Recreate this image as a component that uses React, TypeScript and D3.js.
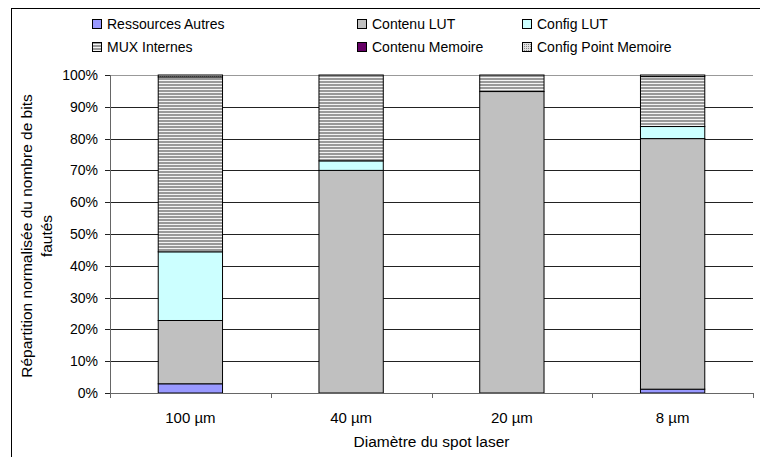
import React from "react";
import * as d3 from "d3";

const categories = ["100 µm", "40 µm", "20 µm", "8 µm"];
const seriesNames = ["Ressources Autres", "Contenu LUT", "Config LUT", "MUX Internes", "Contenu Memoire", "Config Point Memoire"];
const ressourcesAutres = [2.9, 0, 0, 1.2];
const contenuLUT = [19.9, 70, 94.8, 78.8];
const configLUT = [21.6, 3, 0, 3.8];
const muxInternes = [55, 27, 5.2, 15.7];
const contenuMemoire = [0, 0, 0, 0];
const configPointMemoire = [0.6, 0, 0, 0.5];
const yTicks = [0, 10, 20, 30, 40, 50, 60, 70, 80, 90, 100];

const fills = ["#9999FF", "#C0C0C0", "#CCFFFF", "url(#mux)", "#660066", "url(#cpm)"];

export default function App() {
  const W = 760, H = 457;
  const left = 110, right = 753, top = 75, bottom = 393;
  const x = d3.scaleBand<string>().domain(categories).range([left, right]).paddingInner(0.6).paddingOuter(0.3);
  const xb = d3.scaleBand<string>().domain(categories).range([left, right]);
  const y = d3.scaleLinear().domain([0, 100]).range([bottom, top]);
  const all = [ressourcesAutres, contenuLUT, configLUT, muxInternes, contenuMemoire, configPointMemoire];
  const rows = categories.map((c, i) => {
    const r: any = { cat: c };
    seriesNames.forEach((s, k) => (r[s] = all[k][i]));
    return r;
  });
  const stacked = d3.stack().keys(seriesNames)(rows);
  const font = "Liberation Sans, Arial, sans-serif";
  const legendCols = [97, 362, 527];
  const legendRows = [24, 47];
  return (
    <svg width={W} height={H} style={{ position: "absolute", left: 0, top: 0 }} fontFamily={font}>
      <defs>
        <pattern id="mux" width="4" height="3" patternUnits="userSpaceOnUse">
          <rect width="4" height="3" fill="#999999" />
          <rect y="2" width="4" height="1" fill="#f4f4f4" />
        </pattern>
        <pattern id="cpm" width="2" height="2" patternUnits="userSpaceOnUse">
          <rect width="2" height="2" fill="#e0e0e0" />
          <rect width="1" height="1" fill="#888" />
        </pattern>
      </defs>
      <rect width={W} height={H} fill="#fff" />
      <rect x={11.5} y={8.5} width={800} height={500} fill="none" stroke="#000" strokeWidth={1} />
      {/* legend */}
      {seriesNames.map((s, k) => {
        const cx = legendCols[k % 3];
        const cy = legendRows[Math.floor(k / 3)];
        return (
          <g key={s}>
            <rect x={cx - 4.5} y={cy - 4.5} width={9} height={9} fill={fills[k]} stroke="#000" strokeWidth={1} />
            <text x={cx + 10} y={cy + 5} fontSize={14}>{s}</text>
          </g>
        );
      })}
      {/* gridlines */}
      {yTicks.map((t) => (
        <g key={t}>
          <line x1={left} x2={right} y1={Math.round(y(t)) + 0.5} y2={Math.round(y(t)) + 0.5} stroke={t === 100 ? "#999" : "#222"} strokeWidth={1} />
          <line x1={left - 5} x2={left} y1={Math.round(y(t)) + 0.5} y2={Math.round(y(t)) + 0.5} stroke="#222" />
          <text x={left - 12} y={y(t) + 5} fontSize={14} textAnchor="end">{t}%</text>
        </g>
      ))}
      {/* bars */}
      {stacked.map((layer, k) => (
        <g key={k}>
          {layer.map((d, i) => {
            const h = y(d[0]) - y(d[1]);
            if (h <= 0) return null;
            return (
              <rect key={i} x={x(categories[i])!} y={y(d[1])} width={x.bandwidth()} height={h}
                fill={fills[k]} stroke="#000" strokeWidth={1} />
            );
          })}
        </g>
      ))}
      {/* axes */}
      <line x1={left + 0.5} x2={left + 0.5} y1={top} y2={bottom} stroke="#666" />
      <line x1={left} x2={right} y1={bottom + 0.5} y2={bottom + 0.5} stroke="#666" />
      {categories.map((c, i) => (
        <g key={c}>
          <line x1={Math.round(xb(c)!) + 0.5} x2={Math.round(xb(c)!) + 0.5} y1={bottom} y2={bottom + 5} stroke="#666" />
          <text x={xb(c)! + xb.bandwidth() / 2} y={423} fontSize={15} textAnchor="middle">{c}</text>
        </g>
      ))}
      <line x1={right + 0.5} x2={right + 0.5} y1={bottom} y2={bottom + 5} stroke="#666" />
      <text x={(left + right) / 2} y={447} fontSize={15.5} textAnchor="middle">Diamètre du spot laser</text>
      <text transform={`translate(32,236) rotate(-90)`} fontSize={15.5} textAnchor="middle">
        Répartition normalisée du nombre de bits
      </text>
      <text transform={`translate(52,236) rotate(-90)`} fontSize={15.5} textAnchor="middle">
        fautés
      </text>
    </svg>
  );
}
